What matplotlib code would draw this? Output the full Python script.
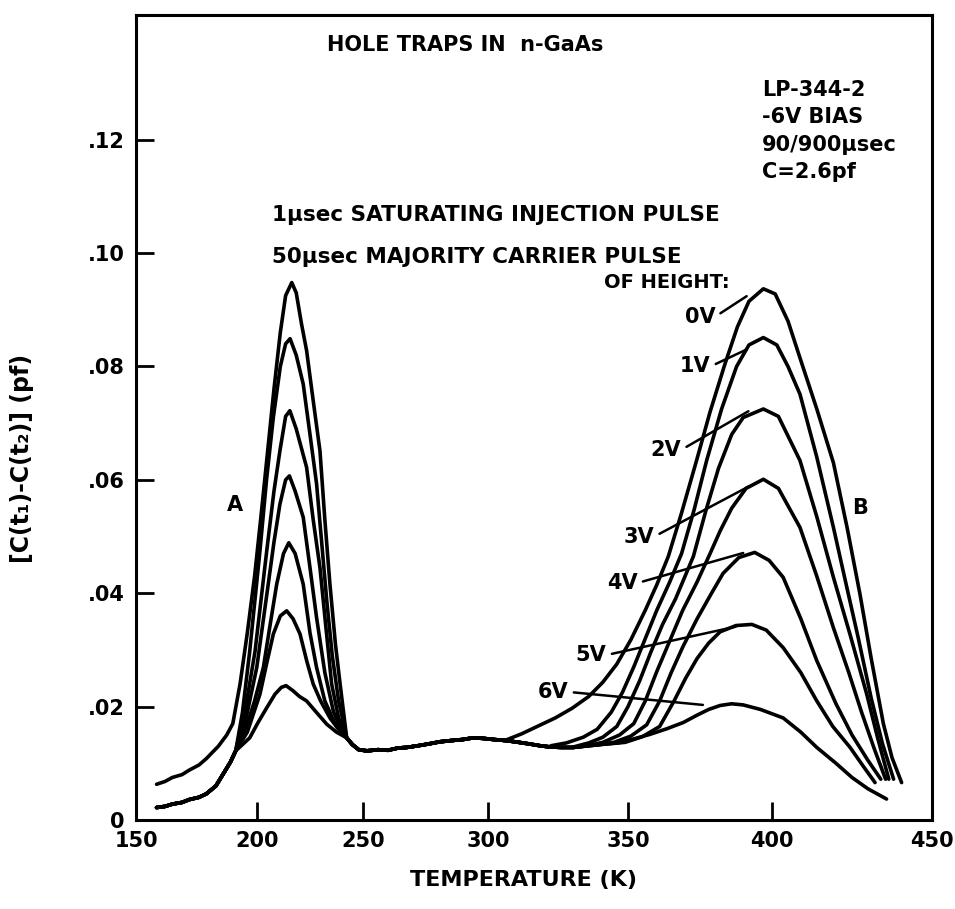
import numpy as np
import matplotlib.pyplot as plt

plt.rcParams['font.family'] = ['DejaVu Sans']
plt.rcParams['font.weight'] = 'bold'

# the scanned temperature axis is not linear: where each tick sits (px from left spine)
T_TICKS = [150, 200, 250, 300, 350, 400, 450]
T_PIX = [0, 121, 227, 352, 492, 636, 796]

Y_TICKS = [0, 0.02, 0.04, 0.06, 0.08, 0.10, 0.12]
Y_LABELS = ['0', '.02', '.04', '.06', '.08', '.10', '.12']

VOLTS = ['0V', '1V', '2V', '3V', '4V', '5V', '6V']

# low temperature tail: 0V sits higher, the other six share one trace
LOW0_T = [158.5, 162, 165, 169, 172, 176, 179, 184, 187.5]
LOW0_V = [0.0063, 0.0068, 0.0075, 0.0080, 0.0088, 0.0097, 0.0108, 0.0130, 0.0150]
LOW_T = [158.5, 162, 165, 169, 172, 176, 179, 183, 186, 189]
LOW_V = [0.0022, 0.0024, 0.0028, 0.0031, 0.0036, 0.0040, 0.0046, 0.0060, 0.0081, 0.0102]

# peak A (~215 K)
PEAK_A_T = [
    [190, 193, 196, 199, 202, 205, 208, 211, 213.5, 216.4, 218.5, 221, 223.4, 226.5, 229.7, 232, 234.4, 237, 239.2, 242.3],
    [191.2, 194, 197, 201.4, 204.5, 207.7, 211, 213.5, 215.6, 218.5, 221.8, 225, 228.1, 230.5, 232.9, 235.5, 238.5, 242.3],
    [191.2, 195, 199.2, 204.6, 208, 210.8, 213.5, 215.5, 218.5, 223.4, 226.5, 229.7, 232.5, 235.2, 238.5, 242.3],
    [191.2, 195.5, 199.9, 205.3, 208, 210.8, 213.5, 215.3, 218, 221.8, 225, 228.1, 232, 236, 239, 242.3],
    [191.2, 196, 199, 203, 206, 209.3, 212.5, 215, 218, 221.8, 225, 228.1, 232, 236.8, 242.3],
    [191.2, 196, 201.4, 204.5, 207.7, 211, 214, 217, 220.3, 223.5, 226.5, 230, 234.4, 238, 242.3],
    [191.2, 197, 200.5, 204.6, 208.5, 211.5, 213.7, 217, 220, 223.4, 228, 232.9, 237.5, 242.3],
]
PEAK_A_V = [
    [0.017, 0.024, 0.033, 0.043, 0.054, 0.065, 0.076, 0.086, 0.0925, 0.0948, 0.093, 0.0875, 0.0828, 0.074, 0.0651, 0.053, 0.0416, 0.031, 0.024, 0.0145],
    [0.0122, 0.019, 0.0298, 0.0475, 0.060, 0.071, 0.080, 0.084, 0.0849, 0.082, 0.0769, 0.068, 0.0593, 0.049, 0.0387, 0.029, 0.021, 0.0145],
    [0.0122, 0.019, 0.0298, 0.0475, 0.058, 0.0651, 0.0712, 0.0722, 0.069, 0.0622, 0.053, 0.0445, 0.034, 0.024, 0.018, 0.0145],
    [0.0122, 0.018, 0.0269, 0.0416, 0.049, 0.0557, 0.0600, 0.0607, 0.058, 0.0534, 0.0445, 0.0357, 0.026, 0.0192, 0.0165, 0.0145],
    [0.0122, 0.017, 0.021, 0.0269, 0.034, 0.0416, 0.047, 0.0489, 0.047, 0.0416, 0.033, 0.0269, 0.021, 0.017, 0.0145],
    [0.0122, 0.0155, 0.0222, 0.0275, 0.0328, 0.036, 0.0369, 0.0355, 0.0328, 0.028, 0.024, 0.021, 0.018, 0.0162, 0.0145],
    [0.0122, 0.0145, 0.0172, 0.0198, 0.0222, 0.0234, 0.0237, 0.0228, 0.0218, 0.021, 0.019, 0.0169, 0.0155, 0.0145],
]

# common flat stretch between the peaks
FLAT_T = [245, 248, 251.6, 256, 260, 264, 267.5, 272, 276, 280.8, 285, 290, 294.1, 298, 302,
          306.7, 311, 315, 318.6, 322, 326, 330.5, 334, 338, 342, 346]
FLAT_V = [0.0133, 0.0124, 0.0122, 0.0124, 0.0123, 0.0127, 0.0128, 0.0131, 0.0134, 0.0138, 0.0140, 0.0142, 0.0145, 0.0144, 0.0142,
          0.0140, 0.0137, 0.0134, 0.0131, 0.0129, 0.0128, 0.0128, 0.0130, 0.0132, 0.0134, 0.0136]

# peak B (~395 K)
PEAK_B_T = [
    [306.9, 312, 318, 324, 330, 336, 341, 346, 351, 356, 360, 364, 368.5, 373.8, 378.5, 383.7, 388, 392, 397, 401, 405, 408.75, 414, 419.2, 423.5, 427.5, 431, 434.8, 437.5, 440.5],
    [322.5, 328, 334, 339, 344, 348, 352, 356, 360, 364.5, 368.6, 373, 377.3, 382.5, 387.7, 392, 397, 401.5, 405, 408.75, 414, 419.2, 423, 427, 431, 434.5, 438],
    [330.6, 336, 341, 346, 350, 354, 358, 362, 366.5, 372.7, 377, 381.4, 386, 390, 397, 402, 408.75, 414, 419.2, 424.5, 429.6, 433, 436.5],
    [334.5, 341, 347, 352, 356, 360, 364, 369, 374, 378.5, 382, 386, 391, 397, 402, 408.75, 414, 419.2, 424, 428, 432, 435.5],
    [338.5, 345, 351, 356.5, 361, 365, 369, 374, 379, 383, 388.5, 394, 399, 403.5, 409, 414, 420, 425, 430, 434],
    [342.5, 349, 355, 361, 366, 370, 374, 378, 382, 387.5, 393, 398, 403.5, 409, 414, 419, 424.4, 428.5, 432.2],
    [346.5, 352, 357.6, 363.5, 369.2, 374, 378, 382, 386, 390, 396, 403.5, 409, 414, 420, 425, 430, 435.8],
]
PEAK_B_V = [
    [0.0142, 0.0152, 0.0166, 0.0180, 0.0197, 0.0218, 0.0243, 0.0275, 0.0318, 0.0370, 0.0415, 0.0465, 0.0540, 0.0634, 0.0720, 0.0805, 0.0870, 0.0915, 0.0937, 0.0928, 0.0880, 0.0815, 0.0725, 0.0630, 0.0515, 0.0398, 0.0285, 0.0170, 0.0110, 0.0066],
    [0.0131, 0.0136, 0.0146, 0.0160, 0.0190, 0.0225, 0.0270, 0.0320, 0.0370, 0.0420, 0.0470, 0.0548, 0.0634, 0.0725, 0.0800, 0.0838, 0.0851, 0.0838, 0.0800, 0.0751, 0.0640, 0.0516, 0.0420, 0.0320, 0.0215, 0.0135, 0.0072],
    [0.0129, 0.0136, 0.0146, 0.0165, 0.0200, 0.0245, 0.0297, 0.0345, 0.0390, 0.0465, 0.0545, 0.0620, 0.0680, 0.0710, 0.0725, 0.0712, 0.0634, 0.0535, 0.0428, 0.0325, 0.0222, 0.0145, 0.0072],
    [0.0130, 0.0137, 0.0150, 0.0170, 0.0210, 0.0262, 0.0310, 0.0370, 0.0420, 0.0470, 0.0510, 0.0550, 0.0585, 0.0601, 0.0585, 0.0516, 0.0430, 0.0339, 0.0260, 0.0190, 0.0125, 0.0072],
    [0.0132, 0.0137, 0.0148, 0.0168, 0.0210, 0.0260, 0.0305, 0.0355, 0.0400, 0.0435, 0.0463, 0.0472, 0.0458, 0.0428, 0.0355, 0.0281, 0.0205, 0.0150, 0.0105, 0.0072],
    [0.0134, 0.0137, 0.0147, 0.0165, 0.0210, 0.0250, 0.0285, 0.0312, 0.0332, 0.0343, 0.0345, 0.0335, 0.0304, 0.0260, 0.0210, 0.0165, 0.0128, 0.0095, 0.0066],
    [0.0136, 0.0143, 0.0151, 0.0161, 0.0172, 0.0185, 0.0195, 0.0202, 0.0205, 0.0203, 0.0195, 0.0180, 0.0155, 0.0128, 0.0100, 0.0075, 0.0055, 0.0037],
]

# label position (T, value) and where its leader touches the curve
LABEL_POS = [(375, 0.0888), (373.3, 0.080), (363.2, 0.0653), (353.8, 0.050), (347.9, 0.0418), (336.8, 0.0291), (323.2, 0.0226)]
LEADER_END = [(391.2, 0.0924), (391.2, 0.083), (391.8, 0.0721), (391.8, 0.0588), (390, 0.0471), (387.4, 0.0341), (376, 0.0203)]


def fwd(t):
    return np.interp(t, T_TICKS, T_PIX)


def inv(p):
    return np.interp(p, T_PIX, T_TICKS)


fig = plt.figure(figsize=(9.55, 9.09), dpi=100)
ax = fig.add_axes([136 / 955, 1 - 820 / 909, 796 / 955, 805 / 909])
ax.set_xscale('function', functions=(fwd, inv))

flat_t = np.array(FLAT_T)
flat_v = np.array(FLAT_V)
for i in range(len(VOLTS)):
    lt, lv = (LOW0_T, LOW0_V) if i == 0 else (LOW_T, LOW_V)
    keep = flat_t < PEAK_B_T[i][0]
    t = np.concatenate([lt, PEAK_A_T[i], flat_t[keep], PEAK_B_T[i]])
    v = np.concatenate([lv, PEAK_A_V[i], flat_v[keep], PEAK_B_V[i]])
    ax.plot(t, v, color='black', lw=2.6, solid_joinstyle='round', solid_capstyle='round')

for lab, pos, end in zip(VOLTS, LABEL_POS, LEADER_END):
    ax.annotate(lab, xy=end, xytext=pos, ha='center', va='center', fontsize=15,
                arrowprops=dict(arrowstyle='-', lw=1.8, color='black', relpos=(1, 0.5),
                                shrinkA=2, shrinkB=0))

ax.set_xlim(150, 450)
ax.set_ylim(0, 0.142)
ax.set_xticks(T_TICKS)
ax.set_xticklabels([str(t) for t in T_TICKS])
ax.set_yticks(Y_TICKS)
ax.set_yticklabels(Y_LABELS)
ax.tick_params(direction='in', length=13, width=2, labelsize=15, pad=8)
for s in ax.spines.values():
    s.set_linewidth(2.2)

ax.text(0.413, 0.963, 'HOLE TRAPS IN  n-GaAs', transform=ax.transAxes, ha='center', va='center', fontsize=15)
info = ['LP-344-2', '-6V BIAS', '90/900\u03bcsec', 'C=2.6pf']
for k, s in enumerate(info):
    ax.text(0.786, 0.907 - 0.034 * k, s, transform=ax.transAxes, ha='left', va='center', fontsize=15)
ax.text(0.171, 0.752, '1\u03bcsec SATURATING INJECTION PULSE', transform=ax.transAxes, ha='left', va='center', fontsize=15.5)
ax.text(0.171, 0.699, '50\u03bcsec MAJORITY CARRIER PULSE', transform=ax.transAxes, ha='left', va='center', fontsize=15.5)
ax.text(0.746, 0.668, 'OF HEIGHT:', transform=ax.transAxes, ha='right', va='center', fontsize=14)
ax.text(0.124, 0.391, 'A', transform=ax.transAxes, ha='center', va='center', fontsize=15)
ax.text(0.910, 0.388, 'B', transform=ax.transAxes, ha='center', va='center', fontsize=15)

fig.text(22 / 955, 1 - 458 / 909, '[C(t\u2081)-C(t\u2082)] (pf)', rotation=90, ha='center', va='center', fontsize=17)
fig.text(523 / 955, 1 - 880 / 909, 'TEMPERATURE (K)', ha='center', va='center', fontsize=16)

fig.savefig('out.png', dpi=100)
